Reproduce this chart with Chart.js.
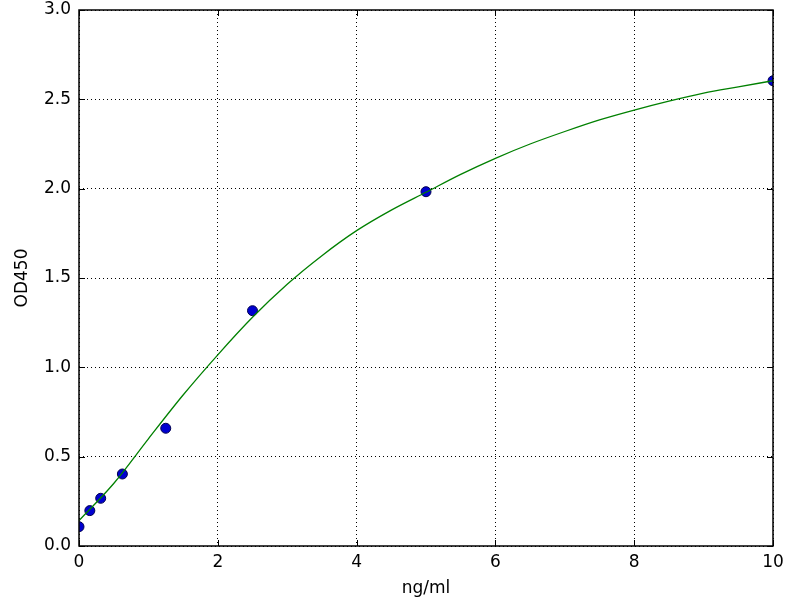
<!DOCTYPE html>
<html>
<head>
<meta charset="utf-8">
<script src="https://cdn.jsdelivr.net/npm/chart.js@4"></script>
<style>
  html, body { margin: 0; padding: 0; background: #fff; }
  canvas { display: block; }
</style>
</head>
<body>
<canvas id="stdChart" width="800" height="600"></canvas>
<script>
// standard points (ng/ml vs OD450)
const concX = [0, 0.156, 0.3125, 0.625, 1.25, 2.5, 5, 10];
const odY = [0.108, 0.198, 0.267, 0.403, 0.659, 1.317, 1.983, 2.604];

// fitted curve, every 0.5 ng/ml
const fitX = [0, 0.5, 1, 1.5, 2, 2.5, 3, 3.5, 4, 4.5, 5, 5.5, 6, 6.5, 7, 7.5, 8, 8.5, 9, 9.5, 10];
const fitY = [0.142, 0.35, 0.60, 0.845, 1.07, 1.28, 1.465, 1.625, 1.765, 1.88, 1.98, 2.08, 2.17, 2.25, 2.32, 2.385, 2.44, 2.49, 2.535, 2.57, 2.604];

const xTicks = [0, 2, 4, 6, 8, 10];
const yTicks = [0, 0.5, 1.0, 1.5, 2.0, 2.5, 3.0];

Chart.defaults.font.family = "'DejaVu Sans', sans-serif";
Chart.defaults.font.size = 17;
Chart.defaults.color = '#000';

// frame + inward ticks on all four sides, like matplotlib classic
const frameTicks = {
    id: 'frameTicks',
    afterDraw(chart) {
        const ctx = chart.ctx;
        const a = chart.chartArea;
        const xs = chart.scales.x, ys = chart.scales.y;
        ctx.save();
        ctx.strokeStyle = '#000';
        ctx.lineWidth = 1;
        ctx.beginPath();
        xTicks.forEach(v => {
            const px = Math.round(xs.getPixelForValue(v)) + 0.5;
            ctx.moveTo(px, a.bottom); ctx.lineTo(px, a.bottom - 6);
            ctx.moveTo(px, a.top); ctx.lineTo(px, a.top + 6);
        });
        yTicks.forEach(v => {
            const py = Math.round(ys.getPixelForValue(v)) + 0.5;
            ctx.moveTo(a.left, py); ctx.lineTo(a.left + 6, py);
            ctx.moveTo(a.right, py); ctx.lineTo(a.right - 6, py);
        });
        ctx.stroke();
        ctx.lineWidth = 1.5;
        ctx.strokeRect(a.left, a.top, a.right - a.left, a.bottom - a.top);
        ctx.restore();
    }
};

const ctx = document.getElementById('stdChart').getContext('2d');
new Chart(ctx, {
    type: 'scatter',
    data: {
        datasets: [{
            type: 'line',
            data: fitX.map((x, i) => ({ x: x, y: fitY[i] })),
            borderColor: '#008000',
            borderWidth: 1.3,
            pointRadius: 0,
            fill: false,
            cubicInterpolationMode: 'monotone',
            clip: 0
        }, {
            data: concX.map((x, i) => ({ x: x, y: odY[i] })),
            backgroundColor: '#0000d0',
            borderColor: '#000050',
            borderWidth: 1,
            pointRadius: 5,
            clip: 0
        }]
    },
    options: {
        responsive: false,
        animation: false,
        devicePixelRatio: 1,
        layout: { padding: { top: 10, right: 27, left: 0, bottom: 0 } },
        plugins: { legend: { display: false }, tooltip: { enabled: false } },
        scales: {
            x: {
                type: 'linear',
                min: 0, max: 10,
                afterBuildTicks: s => { s.ticks = xTicks.map(v => ({ value: v })); },
                afterFit: s => { s.height = 54; s.paddingLeft = 0; s.paddingRight = 0; },
                ticks: { padding: 6, callback: v => String(v), maxRotation: 0 },
                grid: { color: '#000', lineWidth: 1, drawTicks: false },
                border: { display: false, dash: [1, 3] },
                title: { display: true, text: 'ng/ml', padding: { top: 2, bottom: 1 } }
            },
            y: {
                min: 0, max: 3.0,
                afterBuildTicks: s => { s.ticks = yTicks.map(v => ({ value: v })); },
                afterFit: s => { s.width = 79; s.paddingTop = 0; s.paddingBottom = 0; },
                ticks: { padding: 8, callback: v => v.toFixed(1) },
                grid: { color: '#000', lineWidth: 1, drawTicks: false },
                border: { display: false, dash: [1, 3] },
                title: { display: true, text: 'OD450', padding: { top: 12, bottom: 4 } }
            }
        }
    },
    plugins: [frameTicks]
});
</script>
</body>
</html>
